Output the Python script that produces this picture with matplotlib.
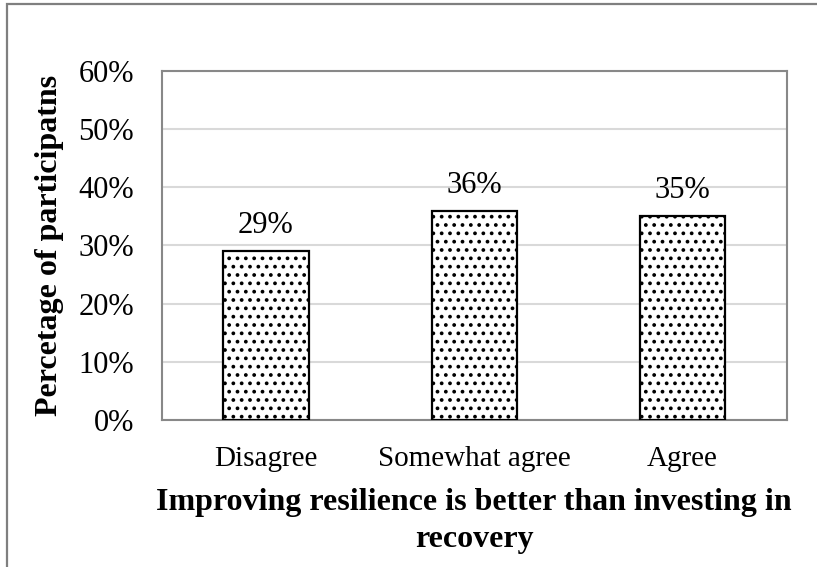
import matplotlib.pyplot as plt
from matplotlib.patches import Rectangle
from matplotlib.ticker import PercentFormatter

# === Data ===
categories = ["Disagree", "Somewhat agree", "Agree"]
percent = [29, 36, 35]
yticks = [0, 10, 20, 30, 40, 50, 60]

plt.rcParams['font.family'] = ['Liberation Serif', 'DejaVu Serif']
plt.rcParams['hatch.linewidth'] = 1.5
plt.rcParams['hatch.color'] = 'black'

fig = plt.figure(figsize=(8.17, 5.67), dpi=100)
ax = fig.add_axes([0.198, 0.2593, 0.765, 0.6155])

# outer frame (cropped on right and bottom)
fig.patches.append(Rectangle((7 / 817, -0.1), 1.2, 1 - 4 / 567 + 0.1,
                             transform=fig.transFigure, fill=False,
                             edgecolor='#7f7f7f', linewidth=1.6))

x = range(len(categories))
bars = ax.bar(x, percent, width=0.41, color='white', edgecolor='black',
              linewidth=1.6, hatch='..', zorder=3)

for b, v in zip(bars, percent):
    ax.text(b.get_x() + b.get_width() / 2, v + 3.1, f"{v}%",
            ha='center', va='baseline', fontsize=22)

ax.set_xlim(-0.5, len(categories) - 0.5)
ax.set_ylim(0, 60)
ax.set_yticks(yticks)
ax.yaxis.set_major_formatter(PercentFormatter(decimals=0))
ax.set_xticks(list(x))
ax.set_xticklabels(categories)
ax.tick_params(axis='y', length=0, pad=20, labelsize=22)
ax.tick_params(axis='x', length=0, pad=19, labelsize=21)
ax.grid(axis='y', color='#d9d9d9', linewidth=1.5, zorder=0)

for s in ax.spines.values():
    s.set_color('#888888')
    s.set_linewidth(1.5)

ax.set_ylabel("Percetage of participatns", fontsize=23, fontweight='bold',
              labelpad=10)
ax.set_xlabel("Improving resilience is better than investing in\nrecovery",
              fontsize=23, fontweight='bold', labelpad=11, linespacing=1.4)

fig.savefig("out.png", dpi=100)
